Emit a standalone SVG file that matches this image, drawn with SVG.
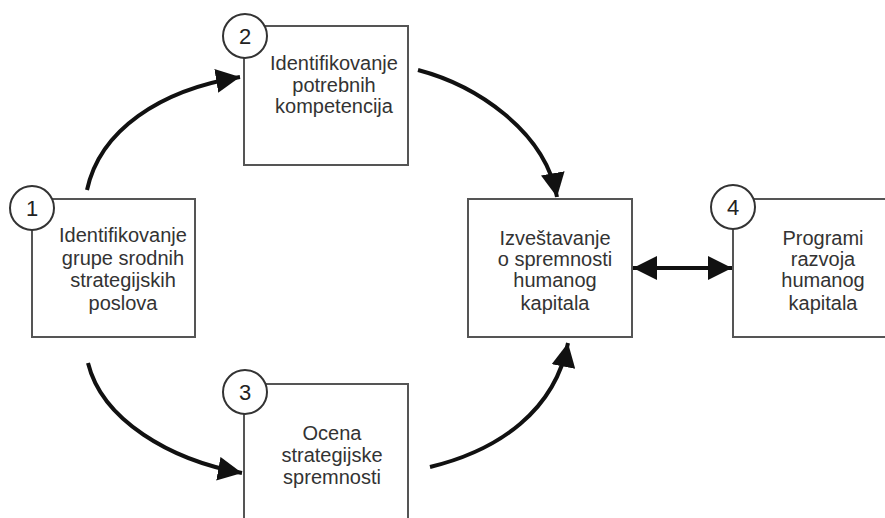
<svg xmlns="http://www.w3.org/2000/svg" width="885" height="518" viewBox="0 0 885 518">
<style>
.box{fill:#fff;stroke:#555;stroke-width:2}
.num{fill:#fff;stroke:#333;stroke-width:2}
.t{font-family:"Liberation Sans",Arial,sans-serif;font-size:20px;fill:#333;text-anchor:middle}
.n{font-family:"Liberation Sans",Arial,sans-serif;font-size:22px;fill:#222;text-anchor:middle}
.c{fill:none;stroke:#111;stroke-width:4}
</style>
<defs>
<marker id="ah" markerUnits="userSpaceOnUse" markerWidth="26" markerHeight="24" refX="24" refY="12" orient="auto">
<path d="M0,0 L24,12 L0,24 Z" fill="#111"/>
</marker>
<marker id="ahs" markerUnits="userSpaceOnUse" markerWidth="26" markerHeight="24" refX="0" refY="12" orient="auto">
<path d="M24,0 L0,12 L24,24 Z" fill="#111"/>
</marker>
</defs>
<rect width="885" height="518" fill="#fff"/>
<g id="connectors">
<path class="c" d="M87,190 C100,130 160,90 240,77" marker-end="url(#ah)"/>
<path class="c" d="M418,70 C475,85 545,130 557,197" marker-end="url(#ah)"/>
<path class="c" d="M88,363 C102,420 170,460 242,473" marker-end="url(#ah)"/>
<path class="c" d="M430,467 C500,450 555,410 568,343" marker-end="url(#ah)"/>
<path class="c" d="M633,268 L732,268" marker-start="url(#ahs)" marker-end="url(#ah)"/>
</g>
<g id="node1">
<rect class="box" x="32" y="199" width="163" height="138"/>
<circle class="num" cx="32" cy="208" r="22"/>
<text class="n" x="32" y="216">1</text>
<text class="t" x="123" y="242">Identifikovanje</text>
<text class="t" x="123" y="265">grupe srodnih</text>
<text class="t" x="123" y="287">strategijskih</text>
<text class="t" x="123" y="310">poslova</text>
</g>
<g id="node2">
<rect class="box" x="244" y="26" width="164" height="139"/>
<circle class="num" cx="245" cy="36" r="22"/>
<text class="n" x="245" y="44">2</text>
<text class="t" x="334" y="70">Identifikovanje</text>
<text class="t" x="334" y="92">potrebnih</text>
<text class="t" x="334" y="113">kompetencija</text>
</g>
<g id="node3">
<rect class="box" x="244" y="384" width="164" height="150"/>
<circle class="num" cx="245" cy="392" r="22"/>
<text class="n" x="245" y="400">3</text>
<text class="t" x="332" y="440">Ocena</text>
<text class="t" x="332" y="462">strategijske</text>
<text class="t" x="332" y="484">spremnosti</text>
</g>
<g id="nodeC">
<rect class="box" x="468" y="199" width="164" height="138"/>
<text class="t" x="555" y="245">Izveštavanje</text>
<text class="t" x="555" y="266">o spremnosti</text>
<text class="t" x="555" y="287">humanog</text>
<text class="t" x="555" y="310">kapitala</text>
</g>
<g id="node4">
<rect class="box" x="733" y="199" width="164" height="138"/>
<circle class="num" cx="733" cy="207" r="22"/>
<text class="n" x="733" y="215">4</text>
<text class="t" x="823" y="245">Programi</text>
<text class="t" x="823" y="266">razvoja</text>
<text class="t" x="823" y="287">humanog</text>
<text class="t" x="823" y="310">kapitala</text>
</g>
</svg>
